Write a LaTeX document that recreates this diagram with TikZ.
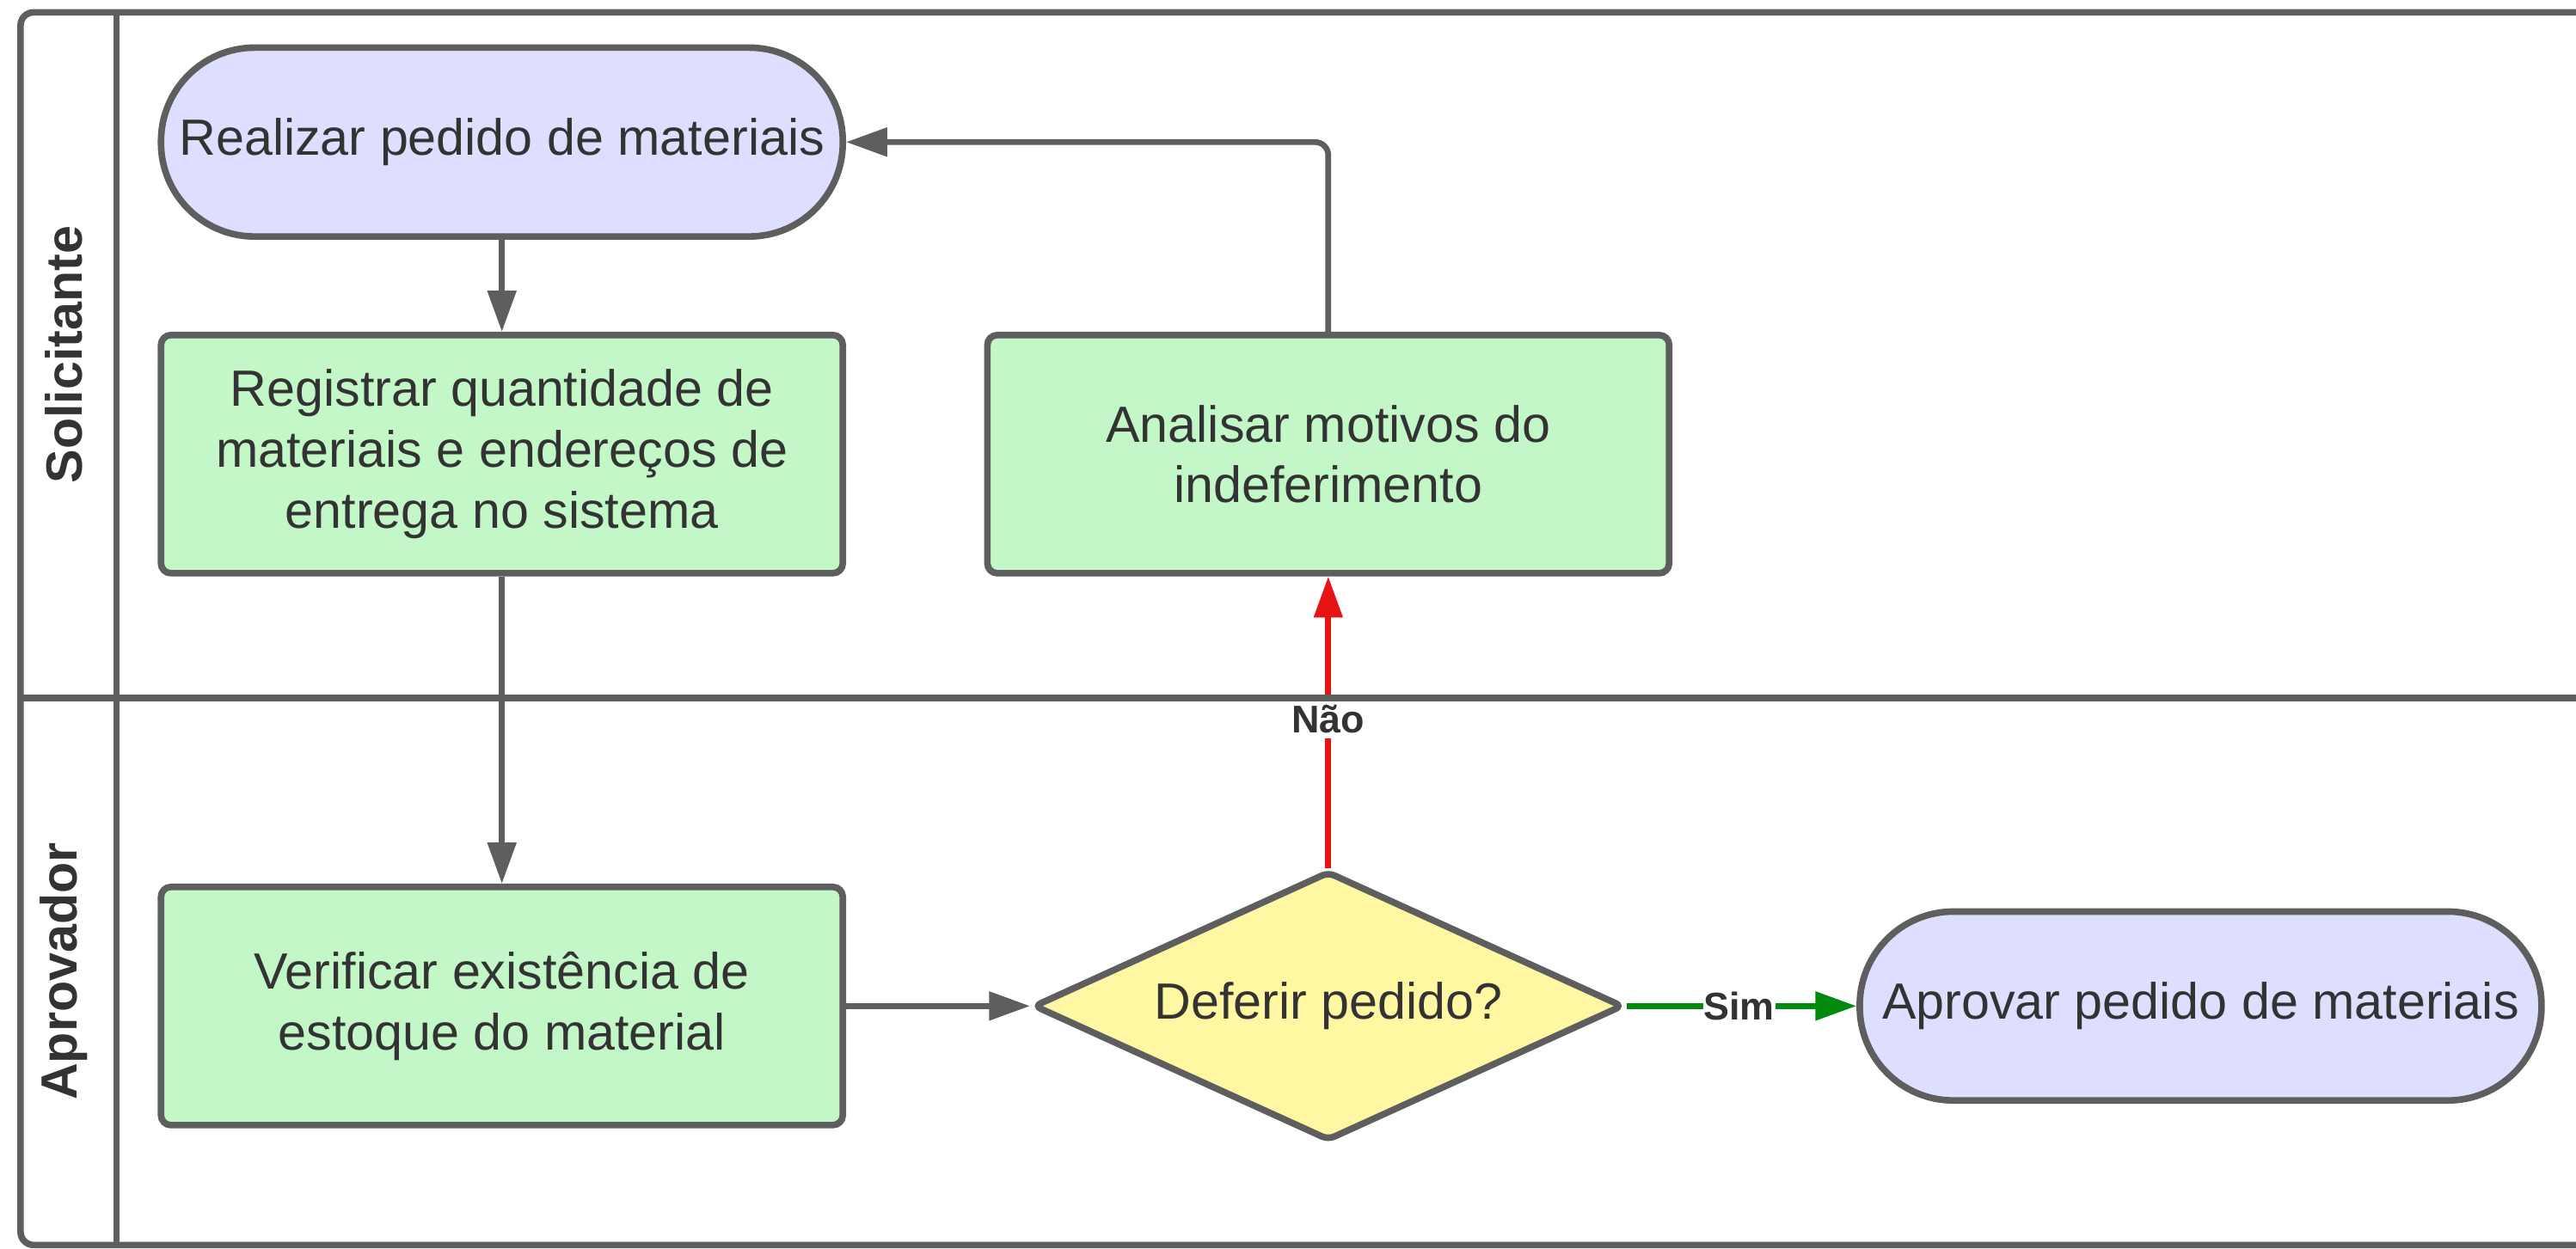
\documentclass[tikz,border=0pt]{standalone}
\usepackage{fontspec}
\setmainfont{Liberation Sans}
\usepackage{xcolor}
\usetikzlibrary{positioning,shapes.geometric,arrows.meta}

\definecolor{linegray}{HTML}{5E5E5E}
\definecolor{textgray}{HTML}{333333}
\definecolor{lilac}{HTML}{DEDFFF}
\definecolor{mint}{HTML}{C3F7C8}
\definecolor{butter}{HTML}{FFF7A1}
\definecolor{noRed}{HTML}{E81313}
\definecolor{yesGreen}{HTML}{008A0E}

\tikzset{
  boxtext/.style={text=textgray, font=\fontsize{31}{37}\selectfont, align=center},
  terminal/.style={boxtext, draw=linegray, line width=4pt, fill=lilac,
    rounded corners=57pt, minimum width=415pt, minimum height=115pt, inner sep=0pt},
  task/.style={boxtext, draw=linegray, line width=4pt, fill=mint,
    rounded corners=6pt, minimum width=415pt, minimum height=145pt, inner sep=0pt},
  decision/.style={boxtext, diamond, draw=linegray, line width=4pt, fill=butter,
    rounded corners=4pt, shape aspect=2.19, minimum width=359pt, minimum height=164pt, inner sep=0pt},
  flow/.style={draw=linegray, line width=3.5pt, -{Triangle[length=25pt,width=17pt]}},
  laneline/.style={draw=linegray, line width=4pt},
  lanelabel/.style={text=textgray, font=\fontsize{31}{37}\selectfont\bfseries, rotate=90},
  answer/.style={text=textgray, font=\fontsize{23.5}{28}\selectfont\bfseries, fill=white,
    inner xsep=0.5pt, inner ysep=3pt}
}

\begin{document}
\begin{tikzpicture}[x=1pt,y=-1pt]
    \useasboundingbox (0,0) rectangle (1568,760);

    \node[terminal] (realizar) at (305.5,86.5) {Realizar pedido de materiais};
    \node[task, below=56pt of realizar] (registrar) {Registrar quantidade de\\materiais e endereços de\\entrega no sistema};
    \node[task, right=84pt of registrar] (analisar) {Analisar motivos do\\indeferimento};
    \node[task, below=187pt of registrar] (verificar) {Verificar existência de\\estoque do material};
    \node[decision, right=112pt of verificar] (deferir) {Deferir pedido?};
    \node[terminal, right=140pt of deferir] (aprovar) {Aprovar pedido de materiais};

    \draw[flow] (realizar) -- (registrar);
    \draw[flow] (registrar) -- (verificar);
    \draw[flow] (verificar) -- (deferir);
    \draw[flow, draw=noRed, -{Triangle[length=25pt,width=17pt,fill=noRed]}] (deferir.north) -- node[answer, pos=0.51] {Não} (analisar.south);
    \draw[flow, draw=yesGreen, -{Triangle[length=25pt,width=17pt,fill=yesGreen]}] (deferir.east) -- node[answer, pos=0.49] {Sim} (aprovar.west);
    \draw[flow, rounded corners=8pt] (analisar.north) |- (realizar.east);

    % lanes
    \draw[laneline, rounded corners=8pt] (1572,7.5) -- (12.5,7.5) -- (12.5,758) -- (1572,758);
    \draw[laneline] (71,7.5) -- (71,758);
    \draw[laneline] (12.5,425) -- (1572,425);
    \node[lanelabel] (solicitante) at (39,216) {Solicitante};
    \node[lanelabel] (aprovador) at (39,591.5) {Aprovador};
\end{tikzpicture}
\end{document}
